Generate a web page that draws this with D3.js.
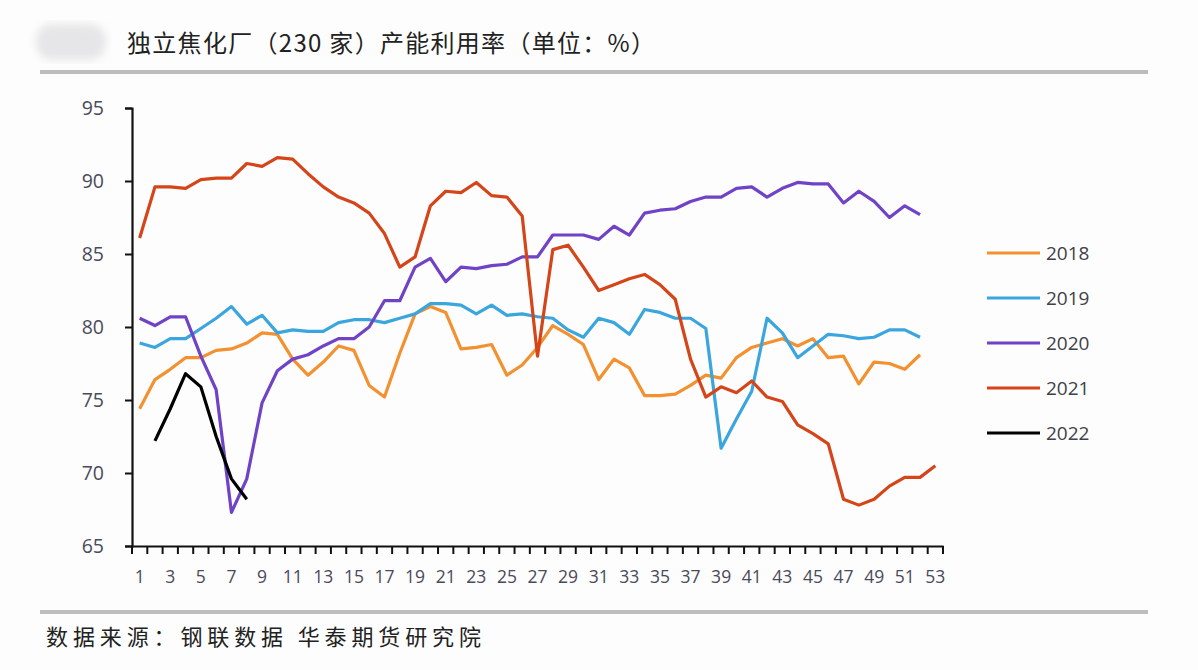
<!DOCTYPE html>
<html><head><meta charset="utf-8">
<script src="https://cdn.jsdelivr.net/npm/d3@7"></script>
<style>
html,body{margin:0;padding:0;background:#fdfdfd;}
svg{display:block;}
</style></head>
<body>
<svg id="c" width="1198" height="670"></svg>
<script>
const weeks = d3.range(1, 54);
const tickLabels = d3.range(1, 54, 2);
const yTicks = [65, 70, 75, 80, 85, 90, 95];
const seriesNames = ["2018", "2019", "2020", "2021", "2022"];
const seriesColors = ["#F39130", "#3AA6DD", "#7043C6", "#D44519", "#000000"];

const v2018 = [74.4,76.4,77.1,77.9,77.9,78.4,78.5,78.9,79.6,79.5,77.8,76.7,77.6,78.7,78.4,76.0,75.2,78.2,80.9,81.4,81.0,78.5,78.6,78.8,76.7,77.4,78.6,80.1,79.5,78.8,76.4,77.8,77.2,75.3,75.3,75.4,76.0,76.7,76.5,77.9,78.6,78.9,79.2,78.7,79.2,77.9,78.0,76.1,77.6,77.5,77.1,78.1,null];
const v2019 = [78.9,78.6,79.2,79.2,79.9,80.6,81.4,80.2,80.8,79.6,79.8,79.7,79.7,80.3,80.5,80.5,80.3,80.6,80.9,81.6,81.6,81.5,80.9,81.5,80.8,80.9,80.7,80.6,79.8,79.3,80.6,80.3,79.5,81.2,81.0,80.6,80.6,79.9,71.7,73.7,75.6,80.6,79.6,77.9,78.7,79.5,79.4,79.2,79.3,79.8,79.8,79.3,null];
const v2020 = [80.6,80.1,80.7,80.7,78.0,75.7,67.3,69.6,74.8,77.0,77.8,78.1,78.7,79.2,79.2,80.0,81.8,81.8,84.1,84.7,83.1,84.1,84.0,84.2,84.3,84.8,84.8,86.3,86.3,86.3,86.0,86.9,86.3,87.8,88.0,88.1,88.6,88.9,88.9,89.5,89.6,88.9,89.5,89.9,89.8,89.8,88.5,89.3,88.6,87.5,88.3,87.7,null];
const v2021 = [86.1,89.6,89.6,89.5,90.1,90.2,90.2,91.2,91.0,91.6,91.5,90.5,89.6,88.9,88.5,87.8,86.4,84.1,84.8,88.3,89.3,89.2,89.9,89.0,88.9,87.6,78.0,85.3,85.6,84.1,82.5,82.9,83.3,83.6,82.9,81.9,77.8,75.2,75.9,75.5,76.3,75.2,74.9,73.3,72.7,72.0,68.2,67.8,68.2,69.1,69.7,69.7,70.5];
const v2022 = [null,72.2,74.4,76.8,75.9,72.5,69.6,68.2];
const seriesValues = [v2018, v2019, v2020, v2021, v2022];

const svg = d3.select("#c");
const font = "'Noto Sans CJK SC','Noto Sans',sans-serif";
const numFont = "'Open Sans','Noto Sans',sans-serif";

// blurred logo placeholder
const defs = svg.append("defs");
defs.append("filter").attr("id","blur").append("feGaussianBlur").attr("stdDeviation",4);
svg.append("rect").attr("x",36).attr("y",24).attr("width",70).attr("height",36).attr("rx",16)
  .attr("fill","#e6e6e8").attr("filter","url(#blur)");

// title
svg.append("text").attr("x",127).attr("y",52).attr("font-family",font).attr("font-size",24)
  .attr("fill","#222").attr("textLength",528).attr("lengthAdjust","spacing")
  .text("独立焦化厂（230 家）产能利用率（单位：%）");
svg.append("rect").attr("x",40).attr("y",70).attr("width",1108).attr("height",4).attr("fill","#bdbdbd");
svg.append("rect").attr("x",40).attr("y",610).attr("width",1108).attr("height",4).attr("fill","#bdbdbd");
svg.append("text").attr("x",46).attr("y",645).attr("font-family",font).attr("font-size",22)
  .attr("fill","#222").attr("textLength",435).attr("lengthAdjust","spacing")
  .text("数据来源：钢联数据 华泰期货研究院");

const x = d3.scaleBand().domain(weeks).range([132, 943]);
const y = d3.scaleLinear().domain([65, 95]).range([546, 108]);

const yAxis = svg.append("g").attr("transform","translate(132,0)")
  .call(d3.axisLeft(y).tickValues(yTicks).tickSize(7).tickPadding(21));
yAxis.select(".domain").attr("stroke","#111").attr("stroke-width",2.2);
yAxis.selectAll(".tick line").attr("stroke","#111").attr("stroke-width",2);
yAxis.selectAll(".tick text").attr("font-family",numFont).attr("font-size",19.5).attr("fill","#4a4a5a");

const xAxis = svg.append("g").attr("transform","translate(0,546)")
  .call(d3.axisBottom(x).tickValues(tickLabels).tickSize(0).tickPadding(25));
xAxis.select(".domain").attr("stroke","#111").attr("stroke-width",2.2);
xAxis.selectAll(".tick text").attr("font-family",numFont).attr("font-size",17.5).attr("fill","#4a4a5a");
// category boundary ticks
const bounds = weeks.map(w => x(w)).concat([x(53) + x.bandwidth()]);
svg.append("g").selectAll("line").data(bounds).join("line")
  .attr("x1", d => d).attr("x2", d => d).attr("y1", 546).attr("y2", 554)
  .attr("stroke","#111").attr("stroke-width",2);

const line = d3.line()
  .defined(d => d.v != null)
  .x(d => x(d.w) + x.bandwidth()/2)
  .y(d => y(d.v));

seriesValues.forEach((vals, i) => {
  const data = vals.map((v, j) => ({w: weeks[j], v}));
  svg.append("path").datum(data).attr("d", line)
    .attr("fill","none").attr("stroke", seriesColors[i]).attr("stroke-width",3.2)
    .attr("stroke-linejoin","round");
});

// legend
const lg = svg.append("g");
seriesNames.forEach((n, i) => {
  const yy = 253 + i*45;
  lg.append("line").attr("x1",987).attr("x2",1040).attr("y1",yy).attr("y2",yy)
    .attr("stroke",seriesColors[i]).attr("stroke-width",3);
  lg.append("text").attr("x",1046).attr("y",yy+7).attr("font-family",numFont).attr("font-size",19)
    .attr("fill","#404048").text(n);
});
</script>
</body></html>
